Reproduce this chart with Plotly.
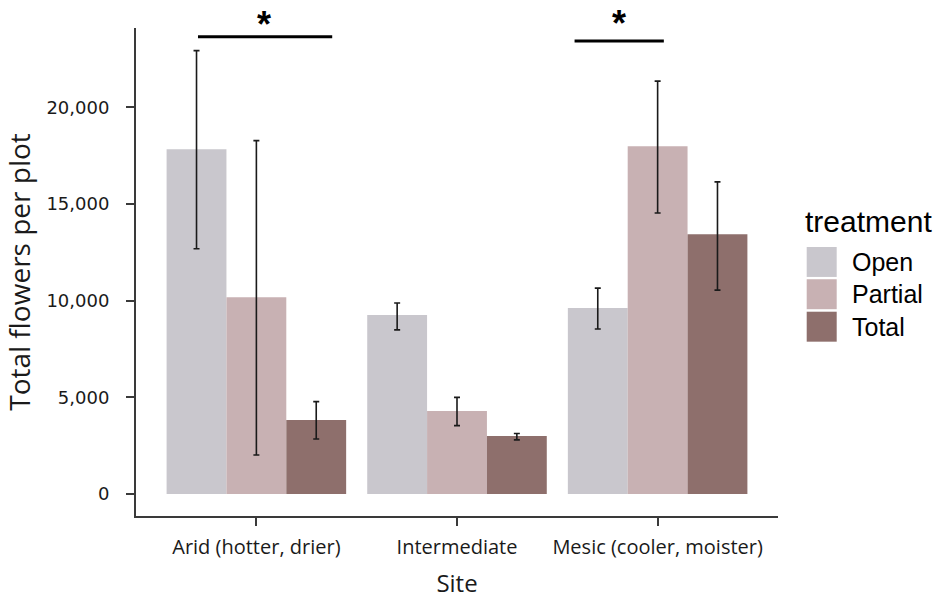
import plotly.graph_objects as go

sites = ["Arid (hotter, drier)", "Intermediate", "Mesic (cooler, moister)"]
treatments = ["Open", "Partial", "Total"]

open_vals = [17830, 9260, 9620]
open_upper = [22940, 9880, 10650]
open_lower = [12690, 8490, 8540]

partial_vals = [10180, 4290, 17990]
partial_upper = [18280, 5000, 21360]
partial_lower = [2020, 3540, 14540]

total_vals = [3830, 3000, 13440]
total_upper = [4780, 3130, 16150]
total_lower = [2850, 2800, 10550]

y_tickvals = [0, 5000, 10000, 15000, 20000]
y_ticktext = ["0", "5,000", "10,000", "15,000", "20,000"]

colors = {"Open": "#C9C7CD", "Partial": "#C8B1B3", "Total": "#8E6F6C"}

series = {
    "Open": (open_vals, open_upper, open_lower),
    "Partial": (partial_vals, partial_upper, partial_lower),
    "Total": (total_vals, total_upper, total_lower),
}

fig = go.Figure()
for t in treatments:
    vals, up, lo = series[t]
    fig.add_trace(go.Bar(
        x=sites, y=vals, name=t,
        marker=dict(color=colors[t], line=dict(width=0)),
        error_y=dict(type="data", symmetric=False,
                     array=[u - v for u, v in zip(up, vals)],
                     arrayminus=[v - l for v, l in zip(vals, lo)],
                     color="#1a1a1a", thickness=1.6, width=3),
        showlegend=False,
    ))

# plot area in window pixels (body margin removed below)
L, R, T, B = 136, 778, 27.5, 516
W, H = 934, 600

def px_x(px):
    return (px - L) / (R - L)

def px_y(py):
    return (B - py) / (B - T)

shapes = []
annotations = []

# significance bars
shapes.append(dict(type="line", xref="x", yref="y", x0=-0.291, x1=0.378, y0=23650, y1=23650,
                   line=dict(color="black", width=3)))
shapes.append(dict(type="line", xref="x", yref="y", x0=1.586, x1=2.031, y0=23430, y1=23430,
                   line=dict(color="black", width=3)))
annotations.append(dict(text="<b>*</b>", xref="x", yref="paper", x=0.04, y=px_y(24), showarrow=False,
                        font=dict(family="Liberation Sans", size=36, color="black"), yanchor="middle"))
annotations.append(dict(text="<b>*</b>", xref="x", yref="paper", x=1.806, y=px_y(23), showarrow=False,
                        font=dict(family="Liberation Sans", size=36, color="black"), yanchor="middle"))

# manual legend
annotations.append(dict(text="treatment", xref="paper", yref="paper", x=px_x(803), y=px_y(221),
                        xanchor="left", yanchor="middle", showarrow=False,
                        font=dict(family="Liberation Sans", size=30, color="black")))
sq_tops = [246.7, 279, 311.5]
for t, top in zip(treatments, sq_tops):
    shapes.append(dict(type="rect", xref="paper", yref="paper",
                       x0=px_x(806.7), x1=px_x(836.7), y0=px_y(top), y1=px_y(top + 30),
                       fillcolor=colors[t], line=dict(width=0)))
    annotations.append(dict(text=t, xref="paper", yref="paper", x=px_x(850), y=px_y(top + 15),
                            xanchor="left", yanchor="middle", showarrow=False,
                            font=dict(family="Liberation Sans", size=25, color="black")))

fig.update_layout(
    width=W, height=H,
    margin=dict(l=L, r=W - R, t=T, b=H - B, pad=0, autoexpand=False),
    paper_bgcolor="white", plot_bgcolor="white",
    barmode="group", bargap=0.105, bargroupgap=0,
    shapes=shapes, annotations=annotations,
    showlegend=False,
)
fig.update_xaxes(
    automargin=False,
    range=[-0.6, 2.6], showline=True, linecolor="#3a3a3a", linewidth=2,
    ticks="outside", ticklen=8, tickcolor="#3a3a3a", tickwidth=1.5,
    ticklabelstandoff=4,
    tickfont=dict(family="Open Sans", size=20, color="#1a1a1a"),
    title=dict(text="Site", font=dict(family="Open Sans", size=24, color="#1a1a1a"), standoff=16),
    showgrid=False, zeroline=False,
)
fig.update_yaxes(
    automargin=False,
    range=[-1137, 24109], showline=True, linecolor="#3a3a3a", linewidth=2,
    ticks="outside", ticklen=8, tickcolor="#3a3a3a", tickwidth=1.5,
    ticklabelstandoff=13,
    tickvals=y_tickvals, ticktext=y_ticktext,
    tickfont=dict(family="DejaVu Sans", size=18, color="#1a1a1a"),
    title=dict(text="Total flowers per plot", font=dict(family="Open Sans", size=28, color="#1a1a1a"), standoff=8),
    showgrid=False, zeroline=False,
)

fig.write_html("out.html", config={"displayModeBar": False},
               post_script="document.body.style.margin='0';document.body.style.overflow='hidden';")
